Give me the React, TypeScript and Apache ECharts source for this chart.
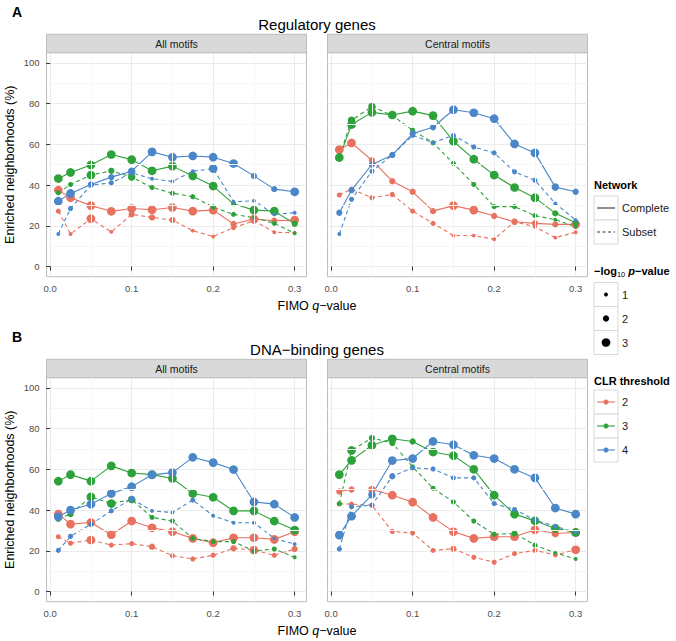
import React, { useEffect, useRef } from "react";
import * as echarts from "echarts";

const qValues = [0.01, 0.025, 0.05, 0.075, 0.1, 0.125, 0.15, 0.175, 0.2, 0.225, 0.25, 0.275, 0.3];
const xTicks = [0, 0.1, 0.2, 0.3];
const yTicks = [0, 20, 40, 60, 80, 100];
const xMinor = [0.05, 0.15, 0.25];
const yMinor = [10, 30, 50, 70, 90];
const clrLevels = ["2", "3", "4"];
const networkLevels = ["Complete", "Subset"];
const pLevels = [1, 2, 3];
const facetLabels = ["All motifs", "Central motifs"];
const rowTitles = ["Regulatory genes", "DNA−binding genes"];
const rowTags = ["A", "B"];

// Regulatory genes, All motifs
const regAllC2 = [37.5, 33.8, 29.9, 27.1, 28.5, 27.9, 29, 27.2, 27.7, 20.9, 23.3, 22.5, 22.8];
const regAllC2p = [3, 3, 3, 3, 3, 3, 3, 3, 3, 2, 3, 2, 3];
const regAllS2 = [27.2, 16, 23.5, 17, 25.6, 24.1, 22.8, 17.6, 14.7, 19.1, 22.5, 16.8, 16.6];
const regAllS2p = [1.5, 1, 3, 1, 2, 2, 2, 1, 1, 1.5, 2, 1, 1];
const regAllC3 = [43.2, 46.2, 49.9, 55, 52.5, 47, 49.3, 44.5, 39.5, 30.8, 27.7, 27.2, 21];
const regAllC3p = [3, 3, 3, 3, 3, 3, 3, 3, 3, 1.5, 3, 3, 2];
const regAllS3 = [36.2, 40.3, 44.9, 47, 43.9, 38.8, 36, 34.3, 29.2, 25.6, 24, 21.2, 16.3];
const regAllS3p = [1.5, 1.5, 3, 2, 2.5, 1.5, 1.5, 1.5, 1.5, 1.5, 1, 1.5, 1];
const regAllC4 = [32.1, 35.9, 40.3, 43.9, 46.8, 56.3, 53.7, 54.3, 53.7, 50.6, 44.5, 38, 36.7];
const regAllC4p = [3, 3, 2, 2, 2.5, 3, 3, 3, 3, 3, 2, 2, 3];
const regAllS4 = [16, 28.5, 40, 41.1, 46, 43.1, 41.8, 46.8, 48.1, 31.8, 32.3, 25.6, 26.4];
const regAllS4p = [1, 1.5, 1, 1.5, 1, 1, 1, 1, 3, 1, 1, 1, 1];

// Regulatory genes, Central motifs
const regCenC2 = [57.4, 60.7, 52.2, 41.9, 36.7, 27.2, 29.9, 27.7, 24.8, 22, 21.2, 20.7, 20.7];
const regCenC2p = [3, 3, 2, 2, 2, 2, 3, 3, 2, 2, 2, 2, 3];
const regCenS2 = [35.1, 38, 33.8, 35.4, 27.2, 21.2, 15.2, 15.2, 13.4, 22, 19.5, 14.2, 16.8];
const regCenS2p = [1.5, 1.5, 1.5, 1.5, 1.5, 1.5, 1, 1, 1, 2, 1, 1, 1];
const regCenC3 = [53.5, 69.7, 75.7, 74.4, 76.3, 74.1, 61.5, 52.7, 44.9, 38.8, 33.8, 26.1, 21.5];
const regCenC3p = [3, 3, 3, 3, 3, 3, 3, 3, 3, 3, 3, 2, 2];
const regCenS3 = [54, 71.8, 78.6, 74.2, 66.9, 60.8, 50.6, 40.3, 29.4, 29.4, 25, 23, 19.5];
const regCenS3p = [2, 2.5, 2.5, 2, 1.5, 1.5, 1.5, 1.5, 1.5, 1.5, 1.5, 1, 1];
const regCenC4 = [26.4, 37.5, 50.1, 54.8, 65.3, 68.4, 77, 75.5, 72.6, 60.2, 55.8, 39, 36.7];
const regCenC4p = [2, 2, 2, 2, 2, 2, 3, 3, 3, 3, 3, 2.5, 2];
const regCenS4 = [16, 33, 46.8, 54.8, 64.4, 60.8, 64.4, 58.7, 55.8, 46.5, 42.4, 31, 22.8];
const regCenS4p = [1, 1.5, 1.5, 1.5, 1.5, 1, 1.5, 1.5, 1.5, 1.5, 1.5, 1, 1];

// DNA-binding genes, All motifs
const dnaAllC2 = [38, 33.1, 33.9, 27.9, 34.6, 31.3, 29.4, 26.1, 24, 26.4, 26.4, 25.6, 29.4];
const dnaAllC2p = [3, 3, 3, 3, 3, 3, 3, 3, 3, 3, 3, 3, 3];
const dnaAllS2 = [26.9, 23.7, 25.3, 22.8, 23.5, 22, 17.6, 16, 17.8, 21.2, 20.4, 17.8, 20.9];
const dnaAllS2p = [1.5, 1.5, 3, 1.5, 1.5, 2, 1.5, 1.5, 1.5, 2, 3, 1.5, 2];
const dnaAllC3 = [54.2, 57.4, 54.2, 61.7, 58.2, 57.4, 55.5, 48.1, 46.3, 39.6, 39.6, 34.6, 30.2];
const dnaAllC3p = [3, 3, 3, 3, 3, 3, 3, 3, 3, 3, 3, 3, 3];
const dnaAllS3 = [35.7, 38, 46.5, 43.2, 45.2, 36.4, 34.6, 26.1, 24.5, 24.5, 19.9, 20.9, 16.8];
const dnaAllS3p = [2, 2, 3, 3, 2.5, 1.5, 1.5, 1.5, 1.5, 1.5, 1.5, 1.5, 1];
const dnaAllC4 = [36.7, 40, 42.9, 48.1, 51.5, 57.3, 58.4, 65.9, 63.3, 59.9, 44, 42.9, 36.4];
const dnaAllC4p = [3, 3, 3, 3, 3, 3, 3, 3, 3, 3, 3, 3, 3];
const dnaAllS4 = [20.2, 27.1, 33, 39.6, 45.5, 39.6, 38.8, 44.9, 37.2, 33.8, 33.8, 26.1, 23.3];
const dnaAllS4p = [1.5, 1.5, 1.5, 1.5, 2, 1, 1, 1.5, 1, 1, 1, 1, 1];

// DNA-binding genes, Central motifs
const dnaCenC2 = [49.1, 50.1, 50.1, 47.3, 43.9, 36.4, 29.4, 26.1, 26.9, 26.9, 30.3, 28.5, 29];
const dnaCenC2p = [2, 2, 2.5, 3, 3, 3, 3, 3, 3, 3, 3, 2.5, 3];
const dnaCenS2 = [43.1, 42.9, 42.4, 29.5, 28.7, 20.2, 21, 16.8, 14.4, 18.6, 20.2, 18, 20.5];
const dnaCenS2p = [1.5, 1.5, 1.5, 1.5, 1.5, 1.5, 2, 1.5, 1.5, 1.5, 1.5, 1.5, 3];
const dnaCenC3 = [57.4, 64.4, 71.8, 75, 73.7, 68.5, 66.7, 60, 47.3, 38, 34.7, 31, 29];
const dnaCenC3p = [3, 3, 3, 3, 2, 3, 3, 3, 3, 3, 3, 3, 3];
const dnaCenS3 = [43.1, 69.3, 75.4, 72.9, 61.2, 50.7, 44, 34.6, 28.1, 28.5, 22.8, 19, 16];
const dnaCenS3p = [1.5, 3, 2, 2, 1.5, 1.5, 1.5, 1.5, 1.5, 2, 1.5, 1, 1];
const dnaCenC4 = [27.7, 37, 47.5, 64.3, 65.3, 73.7, 72.1, 66.9, 65.3, 60, 55.8, 41, 38];
const dnaCenC4p = [3, 3, 2.5, 3, 3, 3, 3, 3, 3, 3, 3, 3, 3];
const dnaCenS4 = [20.9, 41.6, 42.4, 56.6, 60.7, 60.2, 55.8, 55.8, 43.2, 40.3, 35.1, 32, 29];
const dnaCenS4p = [1.5, 1.5, 1.5, 2, 1.5, 1.5, 1.5, 1.5, 1.5, 1.5, 1.5, 1.5, 1];

const FONT = "'Liberation Sans', Arial, Helvetica, sans-serif";
const COLORS = ["#E8725F", "#2DA23B", "#4A86C8"];

const panels = [
  [[regAllC2, regAllC2p, regAllS2, regAllS2p], [regAllC3, regAllC3p, regAllS3, regAllS3p], [regAllC4, regAllC4p, regAllS4, regAllS4p]],
  [[regCenC2, regCenC2p, regCenS2, regCenS2p], [regCenC3, regCenC3p, regCenS3, regCenS3p], [regCenC4, regCenC4p, regCenS4, regCenS4p]],
  [[dnaAllC2, dnaAllC2p, dnaAllS2, dnaAllS2p], [dnaAllC3, dnaAllC3p, dnaAllS3, dnaAllS3p], [dnaAllC4, dnaAllC4p, dnaAllS4, dnaAllS4p]],
  [[dnaCenC2, dnaCenC2p, dnaCenS2, dnaCenS2p], [dnaCenC3, dnaCenC3p, dnaCenS3, dnaCenS3p], [dnaCenC4, dnaCenC4p, dnaCenS4, dnaCenS4p]],
];

const LEFTS = [46.5, 327.5];
const TOPS = [52.7, 377.7];
const W = 260;
const H = 224;
const STRIP = 18.4;
const sizeOf = (p: number) => 1.5 + 2.4 * p;

function txt(x: number, y: number, text: string, s: any = {}, extra: any = {}) {
  const align = s.align || "left";
  const va = s.verticalAlign || "middle";
  return {
    type: "text",
    x,
    y,
    silent: true,
    z: 10,
    ...extra,
    style: {
      text,
      fontFamily: FONT,
      fontSize: 11,
      fill: "#1A1A1A",
      ...s,
      align,
      textAlign: align,
      verticalAlign: va,
      textVerticalAlign: va,
    },
  };
}

function buildOption() {
  const grid: any[] = [];
  const xAxis: any[] = [];
  const yAxis: any[] = [];
  const series: any[] = [];
  const graphic: any[] = [];

  for (let p = 0; p < 4; p++) {
    const col = p % 2;
    const row = Math.floor(p / 2);
    const left = LEFTS[col];
    const top = TOPS[row];
    grid.push({ left, top, width: W, height: H, show: true, borderColor: "#BDBDBD", borderWidth: 1, backgroundColor: "#FFFFFF", containLabel: false });
    xAxis.push({
      type: "value",
      gridIndex: p,
      min: -0.0045,
      max: 0.3145,
      axisLine: { show: false },
      axisTick: { show: true, customValues: xTicks, length: 4, lineStyle: { color: "#333333", width: 1 } },
      axisLabel: { customValues: xTicks, formatter: (v: number) => v.toFixed(1), color: "#4D4D4D", fontSize: 9.5, fontFamily: FONT, margin: 7 },
      splitLine: { show: true, lineStyle: { color: "#EBEBEB", width: 1 } },
    });
    yAxis.push({
      type: "value",
      gridIndex: p,
      min: -5,
      max: 105,
      axisLine: { show: false },
      axisTick: { show: col === 0, customValues: yTicks, length: 4, lineStyle: { color: "#333333", width: 1 } },
      axisLabel: { show: col === 0, customValues: yTicks, color: "#4D4D4D", fontSize: 9.5, fontFamily: FONT, margin: 7 },
      splitLine: { show: true, lineStyle: { color: "#EBEBEB", width: 1 } },
    });
    // minor grid lines
    series.push({
      type: "line",
      xAxisIndex: p,
      yAxisIndex: p,
      data: [],
      z: 1,
      silent: true,
      markLine: {
        silent: true,
        symbol: "none",
        animation: false,
        label: { show: false },
        lineStyle: { color: "#F6F6F6", width: 1, type: "solid" },
        data: [...xMinor.map((v) => ({ xAxis: v })), ...yMinor.map((v) => ({ yAxis: v }))],
      },
    });
    for (let g = 0; g < 3; g++) {
      const [cv, cp, sv, sp] = panels[p][g];
      const sets = [
        [cv, cp, "solid"],
        [sv, sp, [4, 3]],
      ];
      sets.forEach(([vals, ps, dash]: any, k) => {
        series.push({
          type: "line",
          name: clrLevels[g] + " " + networkLevels[k],
          xAxisIndex: p,
          yAxisIndex: p,
          data: qValues.map((q, i) => [q, vals[i]]),
          showSymbol: false,
          symbol: "none",
          silent: true,
          z: 2,
          lineStyle: { color: COLORS[g], width: 1.1, type: dash },
        });
      });
    }
    for (let g = 0; g < 3; g++) {
      const [cv, cp, sv, sp] = panels[p][g];
      [[cv, cp], [sv, sp]].forEach(([vals, ps]: any) => {
        series.push({
          type: "scatter",
          xAxisIndex: p,
          yAxisIndex: p,
          data: qValues.map((q, i) => [q, vals[i], ps[i]]),
          symbol: "circle",
          symbolSize: (d: number[]) => sizeOf(d[2]),
          silent: true,
          z: 3,
          itemStyle: { color: COLORS[g], opacity: 1 },
        });
      });
    }
    // strip
    graphic.push({
      type: "rect",
      silent: true,
      z: 5,
      shape: { x: left, y: top - STRIP, width: W, height: STRIP },
      style: { fill: "#D9D9D9", stroke: "#BDBDBD", lineWidth: 1 },
    });
    graphic.push(txt(left + W / 2, top - STRIP / 2, facetLabels[col], { fontSize: 10.5, align: "center" }));
  }

  for (let r = 0; r < 2; r++) {
    const top = TOPS[r];
    graphic.push(txt(12, top - 41, rowTags[r], { fontSize: 14, fontWeight: "bold", fill: "#000" }));
    graphic.push(txt(317, top - 28.5, rowTitles[r], { fontSize: 15, align: "center", fill: "#000" }));
    graphic.push(
      txt(317, top + H + 29, "", {
        text: "{a|FIMO }{b|q}{a|−value}",
        align: "center",
        rich: {
          a: { fontSize: 12.5, fontFamily: FONT, fill: "#000" },
          b: { fontSize: 12.5, fontFamily: FONT, fontStyle: "italic", fill: "#000" },
        },
      })
    );
    graphic.push(
      txt(10, top + H / 2, "Enriched neighborhoods (%)", { fontSize: 12.5, align: "center", fill: "#000" }, { rotation: Math.PI / 2 })
    );
  }

  // Legend: Network
  const LX = 594;
  const KW = 24;
  const KH = 24;
  graphic.push(txt(LX, 185, "Network", { fontSize: 11, fontWeight: "bold", fill: "#000" }));
  networkLevels.forEach((lab, i) => {
    const y0 = 196 + i * KH;
    graphic.push({ type: "rect", silent: true, z: 5, shape: { x: LX, y: y0, width: KW, height: KH }, style: { fill: "#FFFFFF", stroke: "#D9D9D9", lineWidth: 1 } });
    graphic.push({
      type: "line",
      silent: true,
      z: 6,
      shape: { x1: LX + 3, y1: y0 + KH / 2, x2: LX + KW - 3, y2: y0 + KH / 2 },
      style: { stroke: "#333333", lineWidth: 1.1, lineDash: i === 0 ? null : [3, 2.5] },
    });
    graphic.push(txt(LX + KW + 4, y0 + KH / 2, lab, { fontSize: 11 }));
  });

  // Legend: -log10 p-value
  graphic.push(
    txt(LX, 271, "", {
      text: "{a|−log}{s|10}{i| p}{a|−value}",
      rich: {
        a: { fontSize: 11, fontWeight: "bold", fontFamily: FONT, fill: "#000", lineHeight: 14 },
        s: { fontSize: 7.5, fontWeight: "normal", fontFamily: FONT, fill: "#000", lineHeight: 8, verticalAlign: "bottom" },
        i: { fontSize: 11, fontWeight: "bold", fontStyle: "italic", fontFamily: FONT, fill: "#000", lineHeight: 14 },
      },
    })
  );
  pLevels.forEach((lv, i) => {
    const y0 = 282.5 + i * KH;
    graphic.push({ type: "rect", silent: true, z: 5, shape: { x: LX, y: y0, width: KW, height: KH }, style: { fill: "#FFFFFF", stroke: "#D9D9D9", lineWidth: 1 } });
    graphic.push({ type: "circle", silent: true, z: 6, shape: { cx: LX + KW / 2, cy: y0 + KH / 2, r: sizeOf(lv) / 2 }, style: { fill: "#000000" } });
    graphic.push(txt(LX + KW + 4, y0 + KH / 2, String(lv), { fontSize: 11 }));
  });

  // Legend: CLR threshold
  graphic.push(txt(LX, 381, "CLR threshold", { fontSize: 11, fontWeight: "bold", fill: "#000" }));
  clrLevels.forEach((lab, i) => {
    const y0 = 390 + i * KH;
    graphic.push({ type: "rect", silent: true, z: 5, shape: { x: LX, y: y0, width: KW, height: KH }, style: { fill: "#FFFFFF", stroke: "#D9D9D9", lineWidth: 1 } });
    graphic.push({
      type: "line",
      silent: true,
      z: 6,
      shape: { x1: LX + 3, y1: y0 + KH / 2, x2: LX + KW - 3, y2: y0 + KH / 2 },
      style: { stroke: COLORS[i], lineWidth: 1.1 },
    });
    graphic.push({ type: "circle", silent: true, z: 7, shape: { cx: LX + KW / 2, cy: y0 + KH / 2, r: 2.5 }, style: { fill: COLORS[i] } });
    graphic.push(txt(LX + KW + 4, y0 + KH / 2, lab, { fontSize: 11 }));
  });

  return {
    animation: false,
    backgroundColor: "#FFFFFF",
    textStyle: { fontFamily: FONT },
    grid,
    xAxis,
    yAxis,
    series,
    graphic: { elements: graphic },
  };
}

export default function App() {
  const ref = useRef<HTMLDivElement>(null);
  useEffect(() => {
    if (!ref.current) return;
    const chart = echarts.init(ref.current, null, { renderer: "svg" });
    chart.setOption(buildOption() as any);
    return () => chart.dispose();
  }, []);
  return <div ref={ref} style={{ position: "absolute", left: 0, top: 0, width: 676, height: 641 }} />;
}
